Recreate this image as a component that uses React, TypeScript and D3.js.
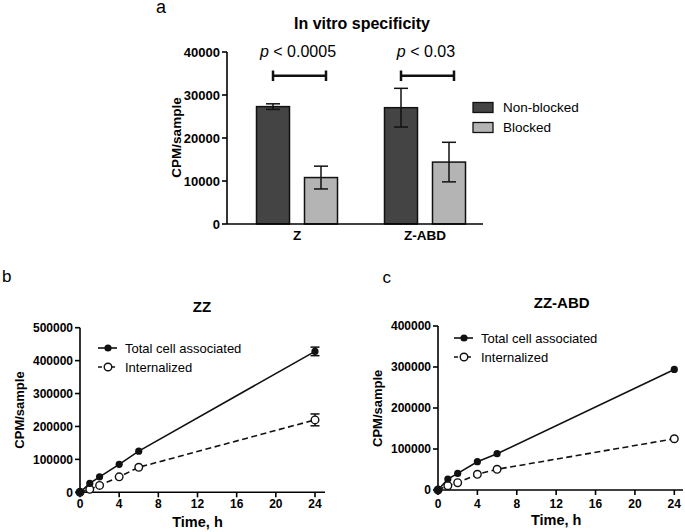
import React from "react";
import * as d3 from "d3";

// ---------- Data ----------
const barCategories = ["Z", "Z-ABD"];
const barSeries = ["Non-blocked", "Blocked"];
const nonBlockedMean = [27300, 27050];
const nonBlockedErr = [650, 4500];
const blockedMean = [10800, 14400];
const blockedErr = [2650, 4600];
const pLabels = ["0.0005", "0.03"];
const barYTicks = [0, 10000, 20000, 30000, 40000];

const timeH = [0, 1, 2, 4, 6, 24];
const timeTicks = [0, 4, 8, 12, 16, 20, 24];

const zzTotal = [0, 27000, 47000, 85000, 125000, 428000];
const zzTotalErr = [0, 2000, 2000, 3000, 3000, 13000];
const zzInternal = [0, 9000, 21000, 47000, 76000, 220000];
const zzInternalErr = [0, 1500, 2000, 3000, 3000, 18000];
const zzYTicks = [0, 100000, 200000, 300000, 400000, 500000];

const abdTotal = [0, 26800, 40500, 69000, 88500, 294000];
const abdTotalErr = [0, 1500, 2000, 2000, 2000, 4000];
const abdInternal = [0, 10500, 17800, 38300, 50500, 125000];
const abdInternalErr = [0, 1000, 1500, 2000, 2000, 4000];
const abdYTicks = [0, 100000, 200000, 300000, 400000];

const FONT = "'Liberation Sans', Arial, Helvetica, sans-serif";
const DARK = "#444444";
const LIGHT = "#b4b4b4";

function BarPanel() {
  const y = d3.scaleLinear().domain([0, 40000]).range([224, 52]);
  const x0 = d3.scaleBand<string>().domain(barCategories).range([233, 489]);
  const x1 = d3
    .scaleBand<string>()
    .domain(barSeries)
    .range([-40.5, 40.5])
    .paddingInner(0.3125);
  const axisX = 227;
  const means = [nonBlockedMean, blockedMean];
  const errs = [nonBlockedErr, blockedErr];
  const fills = [DARK, LIGHT];
  return (
    <g fontFamily={FONT}>
      <text x={156} y={12.5} fontSize={18}>a</text>
      <text x={362} y={28.5} fontSize={16} fontWeight="bold" textAnchor="middle">
        In vitro specificity
      </text>
      {/* y axis */}
      <line x1={axisX} x2={axisX} y1={y(0)} y2={y(40000)} stroke="#000" strokeWidth={1.6} />
      {barYTicks.map((t) => (
        <g key={t}>
          <line x1={axisX - 5} x2={axisX} y1={y(t)} y2={y(t)} stroke="#000" strokeWidth={1.6} />
          <text x={axisX - 7} y={y(t)} dy="0.35em" fontSize={13} fontWeight="bold" textAnchor="end">
            {t}
          </text>
        </g>
      ))}
      <text
        transform={`translate(176,137.5) rotate(-90)`}
        fontSize={13.5}
        fontWeight="bold"
        textAnchor="middle"
        dy="0.35em"
      >
        CPM/sample
      </text>
      {/* bars */}
      {barCategories.map((c, ci) => {
        const cx = x0(c)! + x0.bandwidth() / 2;
        return (
          <g key={c}>
            {barSeries.map((s, si) => {
              const bx = cx + x1(s)!;
              const bw = x1.bandwidth();
              const m = means[si][ci];
              const e = errs[si][ci];
              const mx = bx + bw / 2;
              return (
                <g key={s}>
                  <rect x={bx} y={y(m)} width={bw} height={y(0) - y(m)} fill={fills[si]} stroke="#111" strokeWidth={1.5} />
                  <line x1={mx} x2={mx} y1={y(m - e)} y2={y(m + e)} stroke="#111" strokeWidth={1.5} />
                  <line x1={mx - 7} x2={mx + 7} y1={y(m + e)} y2={y(m + e)} stroke="#111" strokeWidth={1.5} />
                  <line x1={mx - 7} x2={mx + 7} y1={y(m - e)} y2={y(m - e)} stroke="#111" strokeWidth={1.5} />
                </g>
              );
            })}
            <text x={cx} y={240} fontSize={13.5} fontWeight="bold" textAnchor="middle">
              {c}
            </text>
            {/* significance bracket */}
            <line x1={cx - 24} x2={cx + 29} y1={75.7} y2={75.7} stroke="#111" strokeWidth={2.5} />
            <line x1={cx - 24} x2={cx - 24} y1={70.5} y2={81} stroke="#111" strokeWidth={2.5} />
            <line x1={cx + 29} x2={cx + 29} y1={70.5} y2={81} stroke="#111" strokeWidth={2.5} />
            <text x={cx + 1} y={57.3} fontSize={16} textAnchor="middle">
              <tspan fontStyle="italic">p</tspan>
              {" < " + pLabels[ci]}
            </text>
          </g>
        );
      })}
      {/* x axis */}
      <line x1={axisX} x2={483} y1={y(0)} y2={y(0)} stroke="#000" strokeWidth={1.6} />
      {/* legend */}
      {barSeries.map((s, si) => (
        <g key={s} transform={`translate(473,${107.5 + si * 20})`}>
          <rect x={0} y={-5} width={20} height={10} fill={fills[si]} stroke="#111" strokeWidth={1.3} />
          <text x={30} y={0} dy="0.35em" fontSize={13.5}>{s}</text>
        </g>
      ))}
    </g>
  );
}

type LineProps = {
  letter: string;
  letterX: number;
  letterY: number;
  title: string;
  titleX: number;
  titleY: number;
  xRange: [number, number];
  yRange: [number, number];
  yMax: number;
  yTicks: number[];
  axisEnd: number;
  total: number[];
  totalErr: number[];
  internal: number[];
  internalErr: number[];
  yLabelX: number;
  yLabelY: number;
  legendX: number;
  legendY: number;
  xLabelY: number;
};

function LinePanel(p: LineProps) {
  const x = d3.scaleLinear().domain([0, 24]).range(p.xRange);
  const y = d3.scaleLinear().domain([0, p.yMax]).range(p.yRange);
  const line = d3
    .line<number>()
    .x((_, i) => x(timeH[i]))
    .y((d) => y(d));
  const ax = x(0);
  const y0 = y(0);
  const errBars = (vals: number[], errs: number[]) =>
    vals.map((v, i) =>
      errs[i] > 0 && y(v - errs[i]) - y(v + errs[i]) > 6 ? (
        <g key={i}>
          <line x1={x(timeH[i])} x2={x(timeH[i])} y1={y(v - errs[i])} y2={y(v + errs[i])} stroke="#111" strokeWidth={1.5} />
          <line x1={x(timeH[i]) - 4.5} x2={x(timeH[i]) + 4.5} y1={y(v + errs[i])} y2={y(v + errs[i])} stroke="#111" strokeWidth={1.5} />
          <line x1={x(timeH[i]) - 4.5} x2={x(timeH[i]) + 4.5} y1={y(v - errs[i])} y2={y(v - errs[i])} stroke="#111" strokeWidth={1.5} />
        </g>
      ) : null
    );
  return (
    <g fontFamily={FONT}>
      <text x={p.letterX} y={p.letterY} fontSize={17}>{p.letter}</text>
      <text x={p.titleX} y={p.titleY} fontSize={15} fontWeight="bold" textAnchor="middle">
        {p.title}
      </text>
      {/* axes */}
      <line x1={ax} x2={ax} y1={y0} y2={y(p.yMax)} stroke="#000" strokeWidth={1.6} />
      <line x1={ax} x2={p.axisEnd} y1={y0} y2={y0} stroke="#000" strokeWidth={1.6} />
      {p.yTicks.map((t) => (
        <g key={t}>
          <line x1={ax - 5} x2={ax} y1={y(t)} y2={y(t)} stroke="#000" strokeWidth={1.6} />
          <text x={ax - 7} y={y(t)} dy="0.35em" fontSize={12} fontWeight="bold" textAnchor="end">
            {t}
          </text>
        </g>
      ))}
      {timeTicks.map((t) => (
        <g key={t}>
          <line x1={x(t)} x2={x(t)} y1={y0} y2={y0 + 5} stroke="#000" strokeWidth={1.6} />
          <text x={x(t)} y={508.3} fontSize={12} fontWeight="bold" textAnchor="middle">
            {t}
          </text>
        </g>
      ))}
      <text x={(p.xRange[0] + p.xRange[1]) / 2} y={p.xLabelY} fontSize={14.5} fontWeight="bold" textAnchor="middle">
        Time, h
      </text>
      <text
        transform={`translate(${p.yLabelX},${p.yLabelY}) rotate(-90)`}
        fontSize={13}
        fontWeight="bold"
        textAnchor="middle"
        dy="0.35em"
      >
        CPM/sample
      </text>
      {/* data */}
      <path d={line(p.internal) || ""} fill="none" stroke="#111" strokeWidth={1.6} strokeDasharray="6,3.5" />
      <path d={line(p.total) || ""} fill="none" stroke="#111" strokeWidth={1.6} />
      {errBars(p.total, p.totalErr)}
      {errBars(p.internal, p.internalErr)}
      {p.internal.map((v, i) => (
        <circle key={"i" + i} cx={x(timeH[i])} cy={y(v)} r={3.8} fill="#fff" stroke="#111" strokeWidth={1.4} />
      ))}
      {p.total.map((v, i) => (
        <circle key={"t" + i} cx={x(timeH[i])} cy={y(v)} r={3.6} fill="#111" />
      ))}
      {/* legend */}
      <g transform={`translate(${p.legendX},${p.legendY})`}>
        <line x1={0} x2={19} y1={0} y2={0} stroke="#111" strokeWidth={1.6} />
        <circle cx={10} cy={0} r={3.6} fill="#111" />
        <text x={27} y={0} dy="0.35em" fontSize={13}>Total cell associated</text>
        <line x1={0} x2={19} y1={19} y2={19} stroke="#111" strokeWidth={1.6} strokeDasharray="4,2.5" />
        <circle cx={10} cy={19} r={3.8} fill="#fff" stroke="#111" strokeWidth={1.4} />
        <text x={27} y={19} dy="0.35em" fontSize={13}>Internalized</text>
      </g>
    </g>
  );
}

export default function App() {
  return (
    <svg
      width={685}
      height={532}
      style={{ position: "absolute", left: 0, top: 0, background: "#fff" }}
    >
      <rect width={685} height={532} fill="#fff" />
      <BarPanel />
      <LinePanel
        letter="b"
        letterX={2}
        letterY={281.7}
        title="ZZ"
        titleX={202}
        titleY={311.7}
        xRange={[80, 315]}
        yRange={[492.3, 327.7]}
        yMax={500000}
        yTicks={zzYTicks}
        axisEnd={325}
        total={zzTotal}
        totalErr={zzTotalErr}
        internal={zzInternal}
        internalErr={zzInternalErr}
        yLabelX={19}
        yLabelY={410}
        legendX={98}
        legendY={348}
        xLabelY={526.5}
      />
      <LinePanel
        letter="c"
        letterX={382.5}
        letterY={283.3}
        title="ZZ-ABD"
        titleX={561.7}
        titleY={308.3}
        xRange={[438, 674.3]}
        yRange={[490, 326]}
        yMax={400000}
        yTicks={abdYTicks}
        axisEnd={683}
        total={abdTotal}
        totalErr={abdTotalErr}
        internal={abdInternal}
        internalErr={abdInternalErr}
        yLabelX={377.5}
        yLabelY={408.3}
        legendX={454}
        legendY={338}
        xLabelY={525}
      />
    </svg>
  );
}
